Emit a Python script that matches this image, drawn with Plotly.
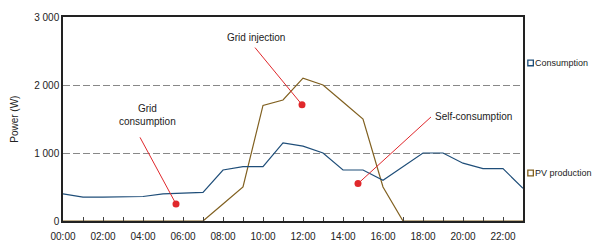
import plotly.graph_objects as go

hours = list(range(24))
hour_labels = [f"{h:02d}:00" if h % 2 == 0 else "" for h in hours]
consumption = [400, 350, 350, 350, 360, 400, 410, 420, 750, 800, 800, 1150,
               1100, 1000, 750, 750, 600, 800, 1000, 1000, 850, 770, 770, 480]
pv_production = [0, 0, 0, 0, 0, 0, 0, 0, 250, 500, 1700, 1780,
                 2100, 2000, 1750, 1500, 500, 0, 0, 0, 0, 0, 0, 0]
y_ticks = [0, 1000, 2000, 3000]
y_tick_labels = ["0", "1 000", "2 000", "3 000"]
series_names = ["Consumption", "PV production"]

# annotation labels: text, text position, line start, dot
ann_texts = ["Grid<br>consumption", "Grid injection", "Self-consumption"]
ann_line_start_x = [3.85, 9.6, 18.4]
ann_line_start_y = [1230, 2550, 1530]
ann_dot_x = [5.65, 11.95, 14.75]
ann_dot_y = [250, 1710, 550]
ann_text_x = [4.2, 9.65, 18.5]
ann_text_y = [1560, 2700, 1530]

C_BLUE = "#1f4e79"
C_BROWN = "#806020"
C_RED = "#e0282c"
FONT = "Liberation Sans Narrow, Arial Narrow, Liberation Sans, Arial"
FS = 10

fig = go.Figure()
fig.add_trace(go.Scatter(x=hours, y=pv_production, mode="lines", name=series_names[1],
                         line=dict(color=C_BROWN, width=1.2), showlegend=False))
fig.add_trace(go.Scatter(x=hours, y=consumption, mode="lines", name=series_names[0],
                         line=dict(color=C_BLUE, width=1.2), showlegend=False))

for i in range(3):
    fig.add_trace(go.Scatter(x=[ann_line_start_x[i], ann_dot_x[i]],
                             y=[ann_line_start_y[i], ann_dot_y[i]],
                             mode="lines", line=dict(color=C_RED, width=1),
                             showlegend=False, hoverinfo="skip"))
fig.add_trace(go.Scatter(x=ann_dot_x, y=ann_dot_y, mode="markers",
                         marker=dict(color=C_RED, size=7), showlegend=False))

for i in range(3):
    xa = "left" if i == 2 else "center"
    fig.add_annotation(x=ann_text_x[i], y=ann_text_y[i], text=ann_texts[i],
                       showarrow=False, xanchor=xa, yanchor="middle",
                       font=dict(size=FS, color="#222", family=FONT))

# legend (drawn manually so the plot area keeps its size)
leg_y = [0.775, 0.235]
leg_col = [C_BLUE, C_BROWN]
for i in range(2):
    fig.add_shape(type="rect", xref="paper", yref="paper",
                  x0=1.0105, x1=1.0225, y0=leg_y[i] - 0.014, y1=leg_y[i] + 0.014,
                  line=dict(color=leg_col[i], width=1.3), fillcolor="white")
    fig.add_annotation(xref="paper", yref="paper", x=1.0235, y=leg_y[i],
                       text=series_names[i], showarrow=False, xanchor="left",
                       yanchor="middle", borderpad=0,
                       font=dict(size=9, color="#222", family=FONT))

fig.add_annotation(xref="paper", yref="paper", x=-0.107, y=0.5, text="Power (W)",
                   textangle=-90, showarrow=False, xanchor="center", yanchor="middle",
                   font=dict(size=FS, color="#222", family=FONT))

fig.update_layout(
    width=593, height=237,
    margin=dict(l=55, r=78, t=9, b=24, autoexpand=False),
    plot_bgcolor="white", paper_bgcolor="white",
    font=dict(family=FONT, size=FS, color="#222"),
    showlegend=False,
)
fig.update_xaxes(range=[0, 23], tickmode="array", tickvals=hours, ticktext=hour_labels,
                 ticks="inside", ticklen=4, tickcolor="#444", showgrid=False,
                 showline=True, linecolor="#222", linewidth=1.5, mirror=True,
                 zeroline=False, tickfont=dict(size=FS), automargin=False,
                 ticklabelstandoff=5)
fig.update_yaxes(range=[0, 3000], tickmode="array", tickvals=y_ticks, ticktext=y_tick_labels,
                 showgrid=True, gridcolor="#888", griddash="7px,3px", gridwidth=1,
                 showline=True, linecolor="#222", linewidth=1.5, mirror=True,
                 zeroline=False, ticks="", tickfont=dict(size=FS), automargin=False)

fig.write_html("out.html")
